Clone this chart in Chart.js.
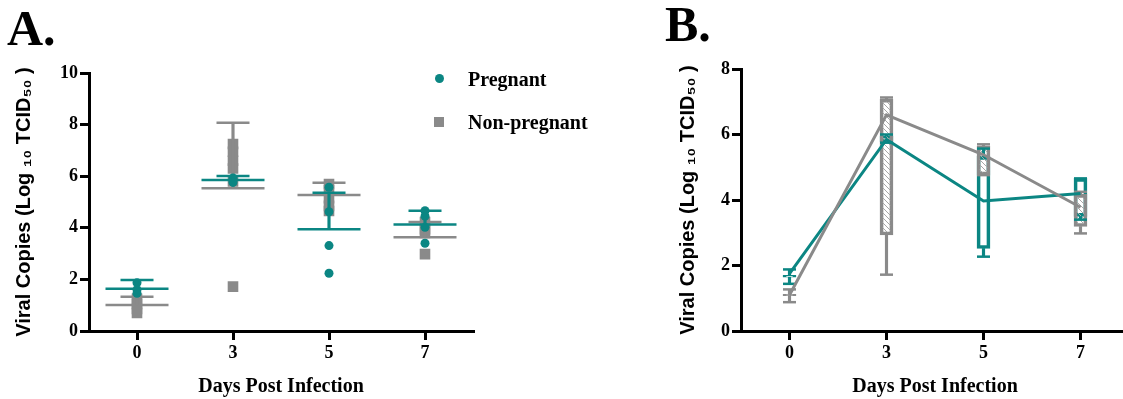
<!DOCTYPE html>
<html>
<head>
<meta charset="utf-8">
<script src="https://cdn.jsdelivr.net/npm/chart.js@4.4.1/dist/chart.umd.min.js"></script>
<style>
  html, body { margin: 0; padding: 0; background: #fff; }
  body { width: 1123px; height: 399px; position: relative; overflow: hidden; }
  canvas { position: absolute; top: 0; }
  #cA { left: 0; }
  #cB { left: 640px; }
  .panel { position: absolute; font-family: 'Liberation Serif', 'Times New Roman', serif; font-weight: bold; font-size: 50px; line-height: 1; color: #000; }
  .leg { position: absolute; font-family: 'Liberation Serif', 'Times New Roman', serif; font-weight: bold; font-size: 20px; line-height: 20px; color: #000; white-space: nowrap; }
  .dot { position: absolute; width: 9px; height: 9px; border-radius: 50%; background: #0b8683; }
  .sq { position: absolute; width: 10px; height: 10px; background: #8a8a8a; }
</style>
</head>
<body>
<div class="panel" style="left:7px; top:3px;">A.</div>
<div class="panel" style="left:665px; top:-1px;">B.</div>
<canvas id="cA" width="480" height="399"></canvas>
<canvas id="cB" width="500" height="399"></canvas>
<div class="dot" style="left:435px; top:74px;"></div>
<div class="leg" style="left:468px; top:69px;">Pregnant</div>
<div class="sq" style="left:434px; top:117px;"></div>
<div class="leg" style="left:468px; top:112px;">Non-pregnant</div>
<script>
// ---------- data ----------
const days = ['0', '3', '5', '7'];

// Panel A: individual values
const pregnantPoints = [
  [1.87, 1.60, 1.46],
  [5.93, 5.85, 5.76],
  [5.57, 4.62, 3.31, 2.24],
  [4.66, 4.45, 4.02, 3.40]
];
const nonPregnantPoints = [
  [1.25, 1.05, 0.85, 0.70],
  [7.25, 6.95, 6.60, 6.30, 5.80, 1.72],
  [5.70, 5.45, 5.15, 4.85, 4.65],
  [4.22, 3.95, 3.80, 2.98]
];
const pregnantMean = [1.64, 5.85, 3.94, 4.13];
const pregnantSdTop = [1.98, 6.01, 5.36, 4.66];
const nonPregnantMean = [1.01, 5.53, 5.27, 3.63];
const nonPregnantSdTop = [1.33, 8.07, 5.75, 4.22];

// Panel B: box summaries and connecting lines
const pregMin = [1.44, 5.75, 2.27, 3.40];
const pregQ1  = [1.64, 5.78, 2.52, 3.50];
const pregQ3  = [1.70, 5.95, 5.33, 4.66];
const pregMax = [1.88, 6.00, 5.57, 4.66];
const pregLine = [1.75, 5.85, 3.97, 4.20];

const nonMin = [0.88, 1.72, 4.76, 2.98];
const nonQ1  = [1.08, 2.93, 4.76, 3.19];
const nonQ3  = [1.12, 7.08, 5.65, 4.17];
const nonMax = [1.27, 7.13, 5.70, 4.25];
const nonLine = [1.10, 6.60, 5.38, 3.78];

const yTicksA = [0, 2, 4, 6, 8, 10];
const yTicksB = [0, 2, 4, 6, 8];

// ---------- styling ----------
const TEAL = '#0b8683';
const GRAY = '#8a8a8a';
const serif = "'Liberation Serif', 'Times New Roman', serif";
const sans = "'Liberation Sans', Arial, 'DejaVu Sans', sans-serif";
const yTitle = 'Viral Copies (Log \u2081\u2080 TCID\u2085\u2080 )';

function pointsToXY(groups) {
  const out = [];
  groups.forEach((vals, i) => vals.forEach(v => out.push({ x: days[i], y: v })));
  return out;
}

function xScale() {
  return {
    type: 'category',
    offset: true,
    grid: { display: true, drawOnChartArea: false, offset: false, drawTicks: true, tickLength: 9, lineWidth: 3, color: '#000' },
    border: { display: true, color: '#000', width: 3 },
    ticks: { color: '#000', padding: 3, font: { family: serif, size: 18, weight: 'bold' } },
    title: { display: true, text: 'Days Post Infection', color: '#000', padding: { top: 0, bottom: 0 }, font: { family: serif, size: 20, weight: 'bold' } },
    afterFit: s => { s.height = 68; }
  };
}

function yScale(ticks, width, titlePad) {
  return {
    type: 'linear',
    min: ticks[0],
    max: ticks[ticks.length - 1],
    afterBuildTicks: s => { s.ticks = ticks.map(v => ({ value: v })); },
    grid: { display: true, drawOnChartArea: false, drawTicks: true, tickLength: 9, lineWidth: 3, color: '#000' },
    border: { display: true, color: '#000', width: 3 },
    ticks: { color: '#000', padding: 2, font: { family: serif, size: 18, weight: 'bold' } },
    title: { display: true, text: yTitle, color: '#000', padding: { top: titlePad, bottom: 0 }, font: { family: sans, size: 20, weight: 'bold' } },
    afterFit: s => { s.width = width; }
  };
}

function capSet(data, color, radius, order, width) {
  return { type: 'line', data: data, showLine: false, order: order,
    pointStyle: 'line', pointRadius: radius, pointHoverRadius: radius,
    pointBorderColor: color, pointBorderWidth: width, pointHoverBorderWidth: width,
    borderColor: color, backgroundColor: color };
}
function stemSet(lo, hi, color, order, thick) {
  return { type: 'bar', data: lo.map((v, i) => [v, hi[i]]), backgroundColor: color,
    borderWidth: 0, barThickness: thick, grouped: false, order: order };
}

Chart.defaults.animation = false;
Chart.defaults.devicePixelRatio = 1;

// ---------- Panel A ----------
new Chart(document.getElementById('cA'), {
  type: 'line',
  data: {
    labels: days,
    datasets: [
      stemSet(pregnantMean, pregnantSdTop, TEAL, 1, 2.5),
      capSet(pregnantSdTop, TEAL, 16.5, 1, 2.5),
      capSet(pregnantMean, TEAL, 31.5, 1, 2.5),
      { type: 'line', data: pointsToXY(pregnantPoints), showLine: false, order: 2,
        pointStyle: 'circle', pointRadius: 4.5, pointBackgroundColor: TEAL, pointBorderWidth: 0, borderColor: TEAL },
      stemSet(nonPregnantMean, nonPregnantSdTop, GRAY, 3, 2.5),
      capSet(nonPregnantSdTop, GRAY, 16.5, 3, 2.5),
      capSet(nonPregnantMean, GRAY, 31.5, 3, 2.5),
      { type: 'line', data: pointsToXY(nonPregnantPoints), showLine: false, order: 4,
        pointStyle: 'rect', pointRadius: 7.5, pointBackgroundColor: GRAY, pointBorderWidth: 0, borderColor: GRAY }
    ]
  },
  options: {
    responsive: false,
    layout: { autoPadding: false, padding: { left: 0, top: 73, right: 7, bottom: 0 } },
    plugins: { legend: { display: false }, tooltip: { enabled: false } },
    scales: { x: xScale(), y: yScale(yTicksA, 89, 12) }
  }
});

// ---------- Panel B ----------
function hatch() {
  const c = document.createElement('canvas');
  c.width = 5; c.height = 5;
  const g = c.getContext('2d');
  g.strokeStyle = '#a8a8a8';
  g.lineWidth = 1;
  g.beginPath();
  g.moveTo(-1, -1); g.lineTo(6, 6);
  g.moveTo(-1, 4); g.lineTo(1, 6);
  g.moveTo(4, -1); g.lineTo(6, 1);
  g.stroke();
  return document.getElementById('cB').getContext('2d').createPattern(c, 'repeat');
}

new Chart(document.getElementById('cB'), {
  type: 'bar',
  data: {
    labels: days,
    datasets: [
      { type: 'line', data: nonLine, borderColor: GRAY, borderWidth: 3, pointRadius: 0, fill: false, order: 0 },
      { type: 'line', data: pregLine, borderColor: TEAL, borderWidth: 3, pointRadius: 0, fill: false, order: 0.5 },
      stemSet(pregMin, pregQ1, TEAL, 1, 2.5),
      stemSet(pregQ3, pregMax, TEAL, 1, 2.5),
      capSet(pregMin, TEAL, 6.5, 1, 2.5),
      capSet(pregMax, TEAL, 6.5, 1, 2.5),
      stemSet(nonMin, nonQ1, GRAY, 2, 2.5),
      stemSet(nonQ3, nonMax, GRAY, 2, 2.5),
      capSet(nonMin, GRAY, 6.5, 2, 2.5),
      capSet(nonMax, GRAY, 6.5, 2, 2.5),
      { type: 'bar', data: nonQ1.map((v, i) => [v, nonQ3[i]]), backgroundColor: hatch(), borderColor: GRAY,
        borderWidth: 3, borderSkipped: false, barThickness: 13, grouped: false, order: 3 },
      { type: 'bar', data: pregQ1.map((v, i) => [v, pregQ3[i]]), backgroundColor: 'rgba(255,255,255,0)', borderColor: TEAL,
        borderWidth: 3, borderSkipped: false, barThickness: 13, grouped: false, order: 4 }
    ]
  },
  options: {
    responsive: false,
    layout: { autoPadding: false, padding: { left: 0, top: 69, right: 11, bottom: 0 } },
    plugins: { legend: { display: false }, tooltip: { enabled: false } },
    scales: { x: xScale(), y: yScale(yTicksB, 101, 36) }
  }
});
</script>
</body>
</html>
